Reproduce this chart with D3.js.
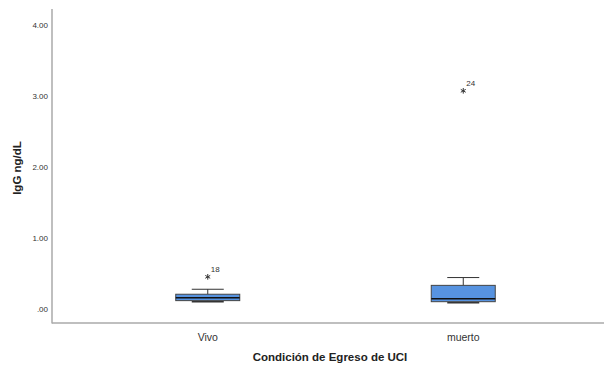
<!DOCTYPE html>
<html>
<head>
<meta charset="utf-8">
<script src="https://cdn.jsdelivr.net/npm/d3@7"></script>
<style>
  body { margin: 0; background: #fff; }
  text { font-family: Arial, "Liberation Sans", sans-serif; }
</style>
</head>
<body>
<div id="chart"></div>
<script>
// datos
var grupos = ["Vivo", "muerto"];
var minimos = [0.11, 0.095];
var q1s = [0.125, 0.11];
var medianas = [0.165, 0.15];
var q3s = [0.215, 0.34];
var maximos = [0.285, 0.45];
var atipicos = [{g: "Vivo", v: 0.46, id: "18"}, {g: "muerto", v: 3.08, id: "24"}];
var ticksY = [0, 1, 2, 3, 4];

var width = 606, height = 366;
var margin = {top: 9, right: 2, bottom: 43, left: 52};

var svg = d3.select("#chart").append("svg")
    .attr("width", width)
    .attr("height", height);

var y = d3.scaleLinear()
    .domain([0, 4])
    .range([309.5, 25.5]);

var x = d3.scaleBand()
    .domain(grupos)
    .range([80, 591]);

var boxW = 64, capW = 32;

// ejes
svg.append("line")
    .attr("x1", margin.left).attr("x2", margin.left)
    .attr("y1", margin.top).attr("y2", height - margin.bottom + 0.5)
    .attr("stroke", "#aaa").attr("stroke-width", 1.5);
svg.append("line")
    .attr("x1", margin.left).attr("x2", width - margin.right)
    .attr("y1", height - margin.bottom).attr("y2", height - margin.bottom)
    .attr("stroke", "#aaa").attr("stroke-width", 1.5);

svg.selectAll(".ty")
    .data(ticksY)
  .enter().append("text")
    .attr("x", 48)
    .attr("y", function(d) { return y(d); })
    .attr("dy", "0.35em")
    .attr("text-anchor", "end")
    .style("font-size", "8px")
    .style("fill", "#333")
    .text(function(d) { return d === 0 ? ".00" : d3.format(".2f")(d); });

svg.selectAll(".tx")
    .data(grupos)
  .enter().append("text")
    .attr("x", function(d) { return x(d) + x.bandwidth() / 2; })
    .attr("y", 341)
    .attr("text-anchor", "middle")
    .style("font-size", "10.5px")
    .style("fill", "#333")
    .text(function(d) { return d; });

svg.append("text")
    .attr("x", 330).attr("y", 361)
    .attr("text-anchor", "middle")
    .style("font-size", "11.5px")
    .style("font-weight", "bold")
    .style("fill", "#222")
    .text("Condición de Egreso de UCI");

svg.append("text")
    .attr("transform", "translate(21,168) rotate(-90)")
    .attr("text-anchor", "middle")
    .style("font-size", "11.5px")
    .style("font-weight", "bold")
    .style("fill", "#222")
    .text("IgG ng/dL");

// cajas
var g = svg.selectAll(".caja")
    .data(grupos)
  .enter().append("g")
    .attr("transform", function(d) { return "translate(" + (x(d) + x.bandwidth() / 2) + ",0)"; });

g.append("line")
    .attr("y1", function(d, i) { return y(maximos[i]); })
    .attr("y2", function(d, i) { return y(q3s[i]); })
    .attr("stroke", "#333");
g.append("line")
    .attr("y1", function(d, i) { return y(minimos[i]); })
    .attr("y2", function(d, i) { return y(q1s[i]); })
    .attr("stroke", "#333");
g.append("line")
    .attr("x1", -capW / 2).attr("x2", capW / 2)
    .attr("y1", function(d, i) { return y(maximos[i]); })
    .attr("y2", function(d, i) { return y(maximos[i]); })
    .attr("stroke", "#333");
g.append("line")
    .attr("x1", -capW / 2).attr("x2", capW / 2)
    .attr("y1", function(d, i) { return y(minimos[i]); })
    .attr("y2", function(d, i) { return y(minimos[i]); })
    .attr("stroke", "#333").attr("stroke-width", 1.5);

g.append("rect")
    .attr("x", -boxW / 2)
    .attr("width", boxW)
    .attr("y", function(d, i) { return y(q3s[i]); })
    .attr("height", function(d, i) { return y(q1s[i]) - y(q3s[i]); })
    .attr("fill", "#5793e0")
    .attr("stroke", "#444");

g.append("line")
    .attr("x1", -boxW / 2).attr("x2", boxW / 2)
    .attr("y1", function(d, i) { return y(medianas[i]); })
    .attr("y2", function(d, i) { return y(medianas[i]); })
    .attr("stroke", "#111").attr("stroke-width", 1.5);

// atipicos
var star = d3.symbol().type(d3.symbolAsterisk).size(22);
svg.selectAll(".at")
    .data(atipicos)
  .enter().append("path")
    .attr("d", star)
    .attr("transform", function(d) { return "translate(" + (x(d.g) + x.bandwidth() / 2) + "," + y(d.v) + ")"; })
    .attr("fill", "none")
    .attr("stroke", "#333")
    .attr("stroke-width", 1);

svg.selectAll(".atl")
    .data(atipicos)
  .enter().append("text")
    .attr("x", function(d) { return x(d.g) + x.bandwidth() / 2 + 3; })
    .attr("y", function(d) { return y(d.v) - 5; })
    .style("font-size", "8px")
    .style("fill", "#333")
    .text(function(d) { return d.id; });
</script>
</body>
</html>
